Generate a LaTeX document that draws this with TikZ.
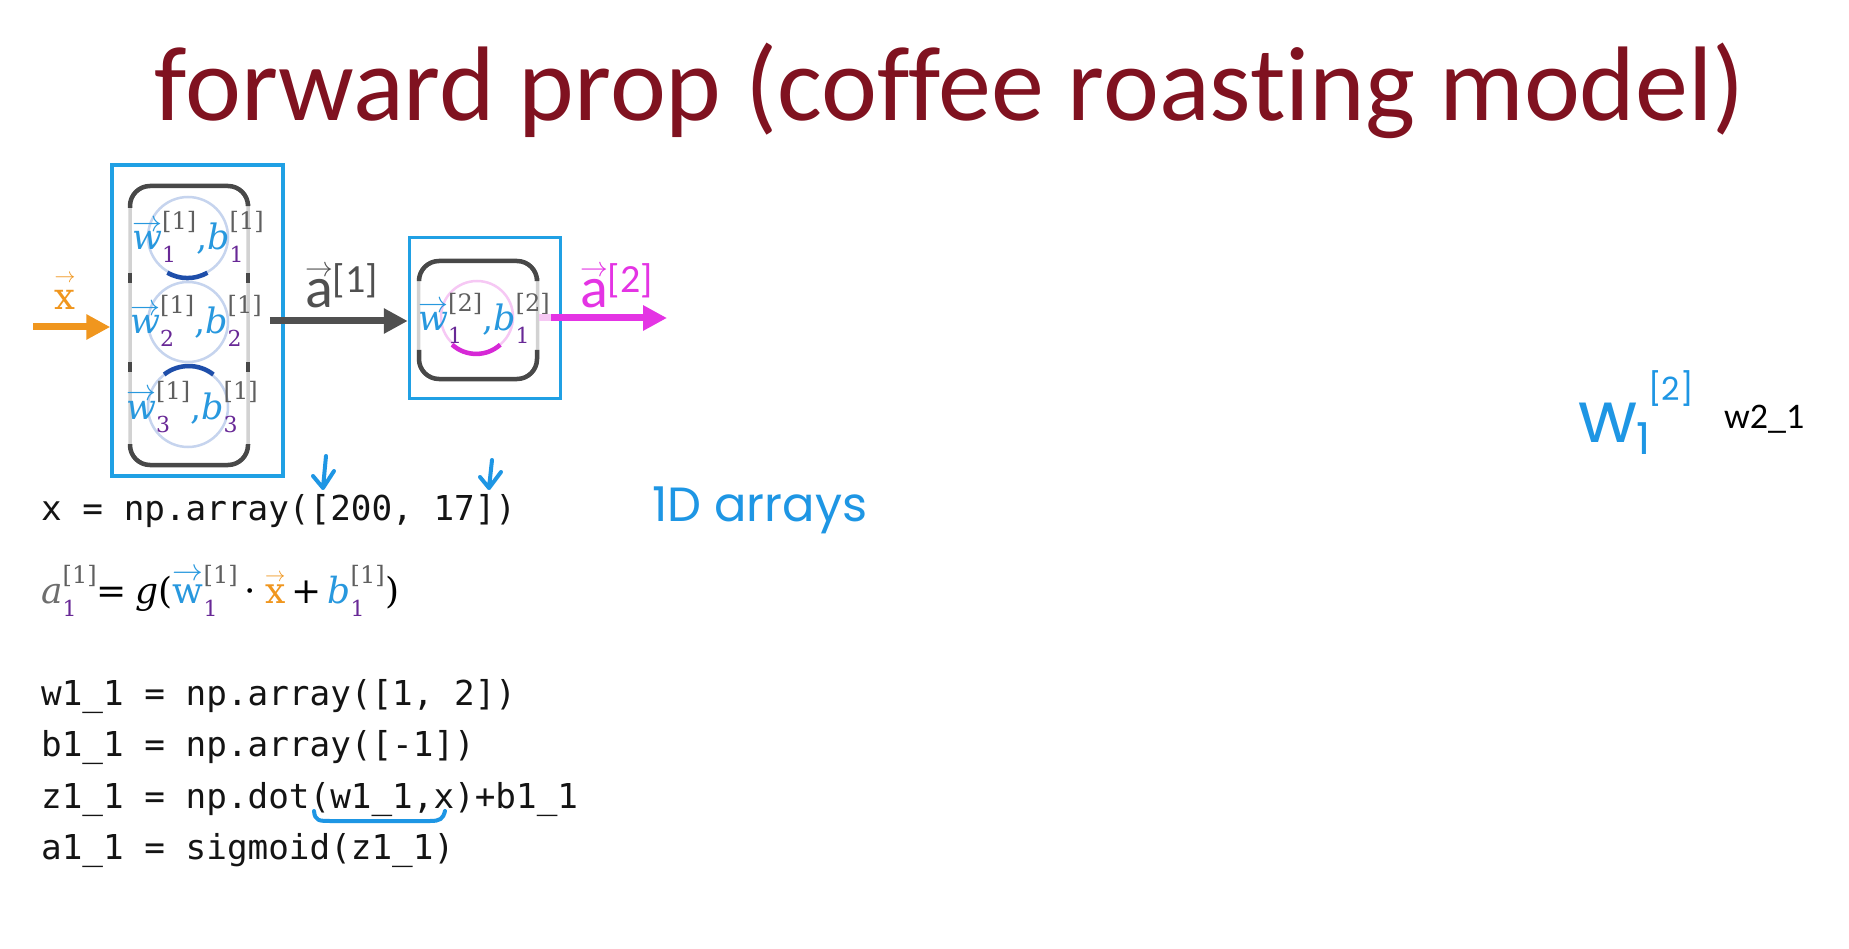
\RequirePackage{fix-cm}
\documentclass[tikz,border=0pt]{standalone}
\usepackage{graphicx}
\usepackage{fontspec}
\newfontfamily\titlefont[Ligatures=NoCommon]{Carlito}
\newfontfamily\codefont{DejaVu Sans Mono}
\newfontfamily\handfont{Poppins}
\newfontfamily\mfont{DejaVu Serif}
\usetikzlibrary{arrows.meta}

\definecolor{titlered}{RGB}{128,18,32}
\definecolor{boxblue}{RGB}{32,160,228}
\definecolor{wblue}{RGB}{40,152,222}
\definecolor{subpurple}{RGB}{104,40,150}
\definecolor{supgray}{RGB}{95,95,95}
\definecolor{agray}{RGB}{110,110,110}
\definecolor{xorange}{RGB}{240,150,30}
\definecolor{amagenta}{RGB}{228,52,228}
\definecolor{arrowgray}{RGB}{80,80,80}
\definecolor{edgedark}{RGB}{72,72,72}
\definecolor{edgelite}{RGB}{210,210,210}
\definecolor{ringblue}{RGB}{198,212,238}
\definecolor{arcblue}{RGB}{30,78,170}
\definecolor{ringpink}{RGB}{246,200,244}
\definecolor{arcpink}{RGB}{214,40,214}
\definecolor{handblue}{RGB}{30,150,228}
\definecolor{codeblack}{RGB}{20,20,20}

% small vector arrow set just above its argument
\newsavebox\arrbox
\newlength\arrW
\newlength\arrH
\newcommand{\arrowon}[2][4pt]{%
  \sbox\arrbox{#2}\setlength\arrW{\wd\arrbox}\setlength\arrH{\ht\arrbox}\addtolength\arrH{#1}%
  \rlap{\raisebox{\arrH}{\resizebox{\arrW}{!}{$\rightarrow$}}}\usebox\arrbox}

% layer index above, unit index below
\newcommand{\supsub}[2]{%
  \rlap{\raisebox{-13pt}{\mfont\fontsize{22}{22}\selectfont\textcolor{subpurple}{#2}}}%
  \raisebox{20pt}{\mfont\fontsize{24}{24}\selectfont\textcolor{supgray}{#1}}}

% weight/bias label of one neuron
\newcommand{\wblabel}[2]{\textcolor{wblue}{\arrowon[0pt]{\itshape w}}\supsub{[#1]}{#2}\textcolor{wblue}{,}\textcolor{wblue}{\itshape b}\supsub{[#1]}{#2}}

\begin{document}
\begin{tikzpicture}[x=1pt,y=-1pt,
  layerbox/.style={draw=boxblue,line width=3.5pt,inner sep=0pt},
  darkedge/.style={draw=edgedark,line width=4.5pt,rounded corners=20pt},
  liteedge/.style={draw=edgelite,line width=3.5pt,rounded corners=20pt},
  ring/.style={circle,inner sep=0pt,line width=2.5pt},
  mathlab/.style={anchor=base west,inner sep=0pt,font=\mfont\fontsize{35}{38}\selectfont},
  code/.style={anchor=base west,inner sep=0pt,text=codeblack,font=\codefont\fontsize{34.3}{40}\selectfont},
  hand/.style={anchor=base west,inner sep=0pt,text=handblue,font=\handfont},
  flow/.style={line width=7pt,-{Triangle[length=24pt,width=24pt]}},
  pen/.style={draw=handblue,line width=4pt,line cap=round,line join=round}]

\useasboundingbox[fill=white] (0,0) rectangle (1849,949);

% title
\node[anchor=base,inner sep=0pt,text=titlered,font=\titlefont\fontsize{106}{112}\selectfont] (title) at (950,121) {forward prop (coffee roasting model)};

% ---- layer 1 ----
\node[layerbox,minimum width=171pt,minimum height=311pt] (L1) at (197.5,320.5) {};
\node[liteedge,minimum width=118pt,minimum height=279pt,inner sep=0pt] (I1) at (189,325.5) {};
\draw[darkedge] (130,208) -- (130,186) -- (248,186) -- (248,204);
\draw[darkedge] (130,444) -- (130,465) -- (248,465) -- (248,444);
\draw[edgedark,line width=4.5pt] (130,273) -- (130,283) (248,273) -- (248,283)
                                 (130,362) -- (130,372) (248,362) -- (248,372);
\node[ring,draw=ringblue,minimum size=80pt] (n1) at (188,237) {};
\node[ring,draw=ringblue,minimum size=80pt] (n2) at (188,322) {};
\node[ring,draw=ringblue,minimum size=80pt] (n3) at (188,407) {};
\draw[arcblue,line width=4.5pt] (n1.240) arc[start angle=240,end angle=300,radius=40pt];
\draw[arcblue,line width=4.5pt] (n3.52) arc[start angle=52,end angle=128,radius=40pt];
\node[mathlab] (lab1) at (132,250) {\wblabel{1}{1}};
\node[mathlab] (lab2) at (130,334) {\wblabel{1}{2}};
\node[mathlab] (lab3) at (126,419) {\wblabel{1}{3}};

% ---- layer 2 ----
\node[layerbox,minimum width=151pt,minimum height=161pt] (L2) at (485,318) {};
\node[liteedge,minimum width=119pt,minimum height=118pt,inner sep=0pt] (I2) at (478,320) {};
\draw[darkedge] (419,278) -- (419,261) -- (537,261) -- (537,278);
\draw[darkedge] (419,350) -- (419,379) -- (537,379) -- (537,350);
\node[ring,draw=ringpink,minimum size=72pt] (m1) at (477,317) {};
\draw[arcpink,line width=4.5pt] (m1.228) arc[start angle=228,end angle=312,radius=36pt];
\node[mathlab] (lab4) at (418,331) {\wblabel{2}{1}};

% ---- flow arrows ----
\coordinate (xin) at (33,327);
\draw[flow,xorange] (xin) -- (xin -| L1.west);
\node[inner sep=0pt,anchor=base,text=xorange,font=\mfont\fontsize{37}{40}\selectfont] (xlab) at (65,310) {\arrowon[8pt]{x}};

\draw[flow,arrowgray] ([xshift=-15pt]L1.east |- 0,321) -- (L2.west |- 0,321);
\node[inner sep=0pt,anchor=base west,text=arrowgray,font=\titlefont\fontsize{58}{60}\selectfont] (a1lab) at (305,308)
  {\arrowon[3pt]{a}\raisebox{15pt}{\fontsize{40}{42}\selectfont[1]}};

\coordinate (aout) at (667,318);
\draw[ringpink,line width=7pt] (I2.east |- 0,318) -- ([xshift=12pt]I2.east |- 0,318) coordinate (pinkend);
\draw[flow,amagenta] (pinkend) -- (aout);
\node[inner sep=0pt,anchor=base west,text=amagenta,font=\titlefont\fontsize{58}{60}\selectfont] (a2lab) at (580,308)
  {\arrowon[3pt]{a}\raisebox{15pt}{\fontsize{40}{42}\selectfont[2]}};

% ---- code ----
\node[code] (c1) at (41,520) {x = np.array([200, 17])};
\node[mathlab,font=\mfont\fontsize{36}{38}\selectfont] (eq) at (41,603)
  {\textcolor{agray}{\itshape a}\supsub{[1]}{1}=\hspace{9pt}{\itshape g}(\textcolor{wblue}{\arrowon[3.5pt]{w}}\supsub{[1]}{1}\hspace{7pt}·\hspace{9pt}\textcolor{xorange}{\arrowon[3pt]{x}}\hspace{6pt}+\hspace{6pt}\textcolor{wblue}{\itshape b}\supsub{[1]}{1}\hspace{1pt})};
\node[code] (c2) at (41,705) {w1\_1 = np.array([1, 2])};
\node[code] (c3) at (41,756) {b1\_1 = np.array([-1])};
\node[code] (c4) at (41,808) {z1\_1 = np.dot(w1\_1,x)+b1\_1};
\node[code] (c5) at (41,859) {a1\_1 = sigmoid(z1\_1)};

% ---- pen notes ----
\draw[pen] (326,456) -- (323,488) (313,476) -- (323,488) -- (334,471);
\draw[pen] (492,460) -- (489,488) (480,477) -- (489,488) -- (501,472);
\draw[pen] (314,811) .. controls (315,821) and (319,821) .. (331,821) -- (430,821) .. controls (440,821) and (443,819) .. (445,811);
\node[hand,font=\handfont\fontsize{48}{50}\selectfont] (arr) at (652,521) {1D arrays};
\node[hand,font=\handfont\fontsize{72}{74}\selectfont] (hw) at (1578,442) {w};
\node[hand,font=\handfont\fontsize{44}{46}\selectfont] (hwsub) at (1636,454) {1};
\node[hand,font=\handfont\fontsize{32}{34}\selectfont] (hwsup) at (1648,400) {[2]};
\node[anchor=base west,inner sep=0pt,font=\titlefont\fontsize{36}{38}\selectfont] (w21) at (1724,428) {w2\_1};

\end{tikzpicture}
\end{document}
